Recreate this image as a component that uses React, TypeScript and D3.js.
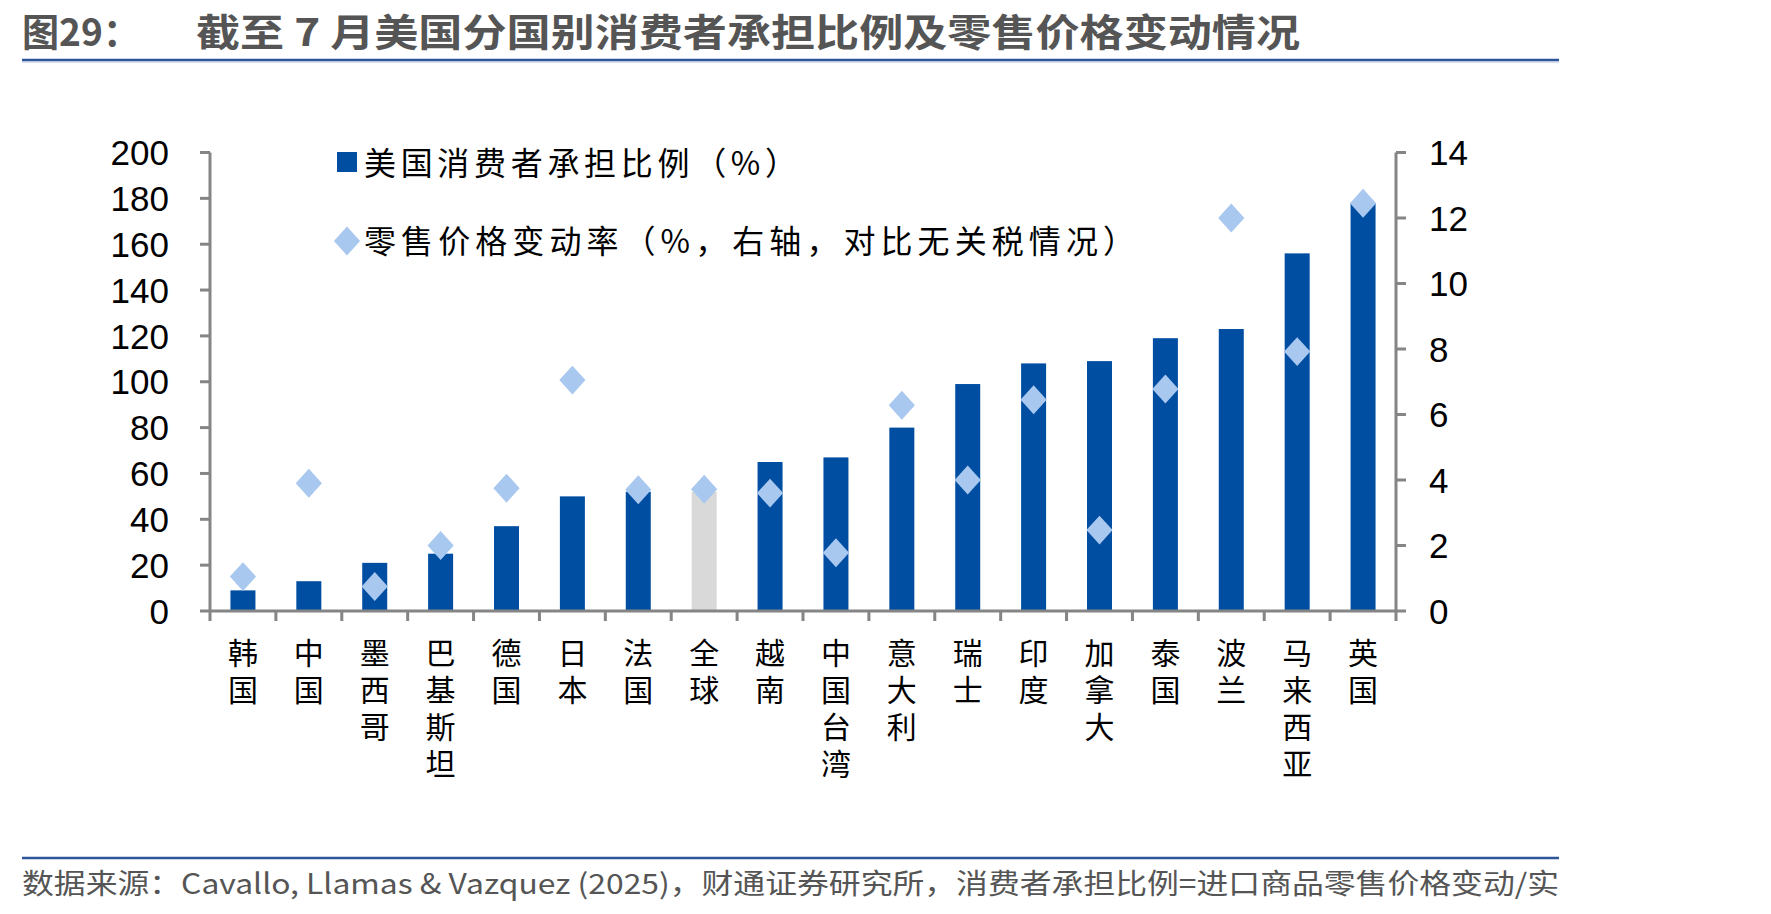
import React from 'react';
import * as d3 from 'd3';

// categories, left to right
const countries = ['韩国', '中国', '墨西哥', '巴基斯坦', '德国', '日本', '法国', '全球', '越南',
  '中国台湾', '意大利', '瑞士', '印度', '加拿大', '泰国', '波兰', '马来西亚', '英国'];

// share of tariff borne by US consumers (%), left axis
const consumerShare = [9, 13, 21, 25, 37, 50, 52, 52, 65, 67, 80, 99, 108, 109, 119, 123, 156, 178];

// retail price change (%), right axis
const priceChange = [1.05, 3.9, 0.75, 2.0, 3.75, 7.05, 3.7, 3.72, 3.6, 1.78, 6.28, 4.0, 6.45, 2.47, 6.78, 12.0, 7.92, 12.45];

const title = '截至 7 月美国分国别消费者承担比例及零售价格变动情况';
const legendBar = '美国消费者承担比例（%）';
const legendDot = '零售价格变动率（%，右轴，对比无关税情况）';
const source = '数据来源：Cavallo, Llamas & Vazquez (2025)，财通证券研究所，消费者承担比例=进口商品零售价格变动/实';

const W = 1771;
const H = 914;
const left = 210;
const right = 1396;
const top = 152.5;
const bottom = 611;

const BAR = '#004EA2';
const GLOBAL = '#D9D9D9';
const DOT = '#A9C8EF';
const AXIS = '#858585';
const CJK = '"Noto Sans CJK SC", "Noto Sans", sans-serif';
const NUM = '"Liberation Sans", Arial, sans-serif';

const App = () => {
  const x = d3.scaleBand<string>().domain(countries).range([left, right]).padding(0);
  const yL = d3.scaleLinear().domain([0, 200]).range([bottom, top]);
  const yR = d3.scaleLinear().domain([0, 14]).range([bottom, top]);
  const barW = 25;
  const mid = (c: string) => (x(c) as number) + x.bandwidth() / 2;
  const diamond = d3.symbol().type(d3.symbolSquare).size(380)() as string;

  return (
    <div style={{ position: 'fixed', left: 0, top: 0 }}>
      <svg width={W} height={H} style={{ display: 'block', background: '#fff' }}>
        {/* header */}
        <text x={22} y={46} fontFamily={CJK} fontWeight={700} fontSize={38} fill="#555"
          textLength={118} lengthAdjust="spacingAndGlyphs">图29：</text>
        <text x={196} y={46} fontFamily={CJK} fontWeight={700} fontSize={38} fill="#555"
          textLength={1104} lengthAdjust="spacingAndGlyphs">{title}</text>
        <line x1={22} x2={1559} y1={60} y2={60} stroke="#2E5597" strokeWidth={2.5} />
        <line x1={22} x2={1559} y1={62} y2={62} stroke="#A9BCE0" strokeWidth={1} />

        {/* bars */}
        {countries.map((c, i) => (
          <rect key={c} x={mid(c) - barW / 2} y={yL(consumerShare[i])}
            width={barW} height={bottom - yL(consumerShare[i])} fill={c === '全球' ? GLOBAL : BAR} />
        ))}

        {/* left axis */}
        <line x1={left} x2={left} y1={top} y2={bottom + 10} stroke={AXIS} strokeWidth={3} />
        {yL.ticks(10).map(t => (
          <g key={t}>
            <line x1={left - 10} x2={left} y1={yL(t)} y2={yL(t)} stroke={AXIS} strokeWidth={3} />
            <text x={169} y={yL(t)} dy="0.36em" textAnchor="end" fontFamily={NUM} fontSize={35} fill="#000">{t}</text>
          </g>
        ))}

        {/* right axis */}
        <line x1={right} x2={right} y1={top} y2={bottom + 10} stroke={AXIS} strokeWidth={3} />
        {yR.ticks(7).map(t => (
          <g key={t}>
            <line x1={right} x2={right + 10} y1={yR(t)} y2={yR(t)} stroke={AXIS} strokeWidth={3} />
            <text x={1429} y={yR(t)} dy="0.36em" textAnchor="start" fontFamily={NUM} fontSize={35} fill="#000">{t}</text>
          </g>
        ))}

        {/* category axis, labels set vertically */}
        <line x1={left} x2={right} y1={bottom} y2={bottom} stroke={AXIS} strokeWidth={3} />
        {countries.slice(1).map(c => (
          <line key={c} x1={x(c)} x2={x(c)} y1={bottom} y2={bottom + 10} stroke={AXIS} strokeWidth={3} />
        ))}
        {countries.map(c => (
          <text key={c} x={mid(c)} y={638} fontFamily={CJK} fontSize={30} fill="#000"
            style={{ writingMode: 'vertical-rl', letterSpacing: '7px' }}>{c}</text>
        ))}

        {/* price change markers */}
        {countries.map((c, i) => (
          <path key={c} d={diamond} fill={DOT}
            transform={`translate(${mid(c)},${yR(priceChange[i])}) scale(0.95,1.05) rotate(45)`} />
        ))}

        {/* legend */}
        <rect x={337} y={152} width={20} height={20} fill={BAR} />
        <text x={364} y={163} dy="0.36em" fontFamily={CJK} fontSize={32} fill="#000"
          textLength={433} lengthAdjust="spacing">{legendBar}</text>
        <path d={diamond} fill={DOT} transform="translate(347,241) scale(0.95,1.05) rotate(45)" />
        <text x={364} y={241} dy="0.36em" fontFamily={CJK} fontSize={32} fill="#000"
          textLength={771} lengthAdjust="spacing">{legendDot}</text>

        {/* footer */}
        <line x1={22} x2={1559} y1={858} y2={858} stroke="#2E5597" strokeWidth={2.5} />
        <text x={22} y={894} fontFamily={CJK} fontSize={28} fill="#555"
          textLength={1537} lengthAdjust="spacingAndGlyphs">{source}</text>
      </svg>
    </div>
  );
};

export default App;
